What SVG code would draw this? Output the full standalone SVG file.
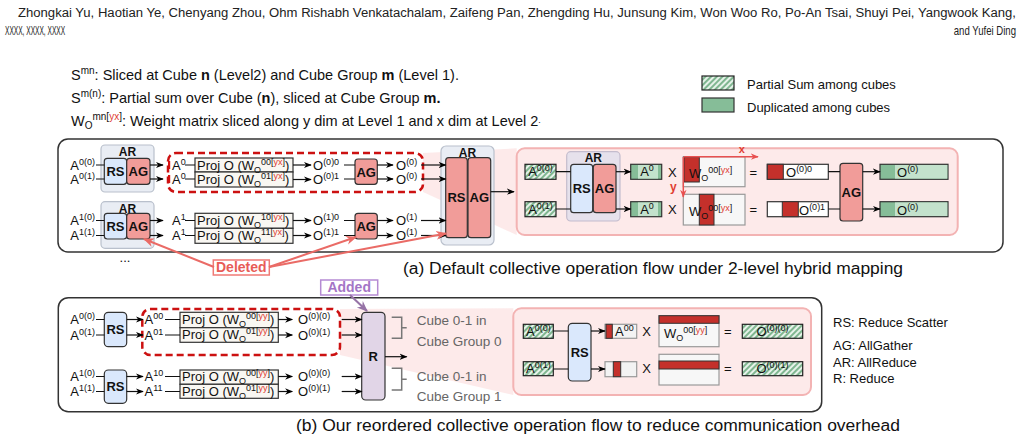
<svg xmlns="http://www.w3.org/2000/svg" width="1023" height="441" viewBox="0 0 1023 441">
<style>
text{font-family:"Liberation Sans",Arial,Helvetica,sans-serif;fill:#111}
.t{font-size:13px}
.lg{font-size:14.5px}
.s{font-size:9px}
.s2{font-size:10px}
.b{font-weight:bold}
.c{text-anchor:middle}
.e{text-anchor:end}
.hdr{font-family:"Liberation Sans Narrow","Liberation Sans",Arial,sans-serif;font-size:12px;fill:#222}
.gr{fill:#666}
.rs{fill:#dae8fc;stroke:#333;stroke-width:1.2}
.ag{fill:#f19c99;stroke:#333;stroke-width:1.2}
.ar{fill:#e9edf4;stroke:#b9c0cc;stroke-width:1.2}
.arp{fill:#e6e1ec;stroke:#c4bccd;stroke-width:1.2}
.rr{fill:#e1d5e7;stroke:#333;stroke-width:1.2}
.proj{fill:#f9f7f2;stroke:#333;stroke-width:1.2}
.ln{stroke:#111;stroke-width:1.2;fill:none}
.arw{stroke:#111;stroke-width:1.2;fill:none;marker-end:url(#ah)}
.rd{fill:#e03c31}
.dred{fill:#c4302b;stroke:#333;stroke-width:1}
.hatch{fill:url(#hatch);stroke:#222;stroke-width:1.2}
.dupd{fill:#86bd98;stroke:#333;stroke-width:1.2}
.dupl{fill:#c3e2cc}
.wbox{fill:#f7f7f7;stroke:#999;stroke-width:1.2}
.panel{fill:#fff;stroke:#333;stroke-width:1.5}
.pink{fill:#fdeaea;stroke:#f3b3b3;stroke-width:2}
.trap{fill:#fce3e3;opacity:0.75}
.dash{fill:none;stroke:#cc1111;stroke-width:2.5;stroke-dasharray:7,4}
.del{stroke:#ea6b66;stroke-width:2;fill:none;marker-end:url(#ahr)}
</style>
<defs>
<pattern id="hatch" width="4" height="4" patternUnits="userSpaceOnUse" patternTransform="rotate(45)">
<rect width="4" height="4" fill="#e6f2e9"/><rect width="2" height="4" fill="#7fb690"/>
</pattern>
<marker id="ah" viewBox="0 0 10 10" refX="9" refY="5" markerWidth="8" markerHeight="8" markerUnits="userSpaceOnUse" orient="auto"><path d="M0,1 L10,5 L0,9 L3,5 z" fill="#000"/></marker>
<marker id="ahr" viewBox="0 0 10 10" refX="9" refY="5" markerWidth="11" markerHeight="11" markerUnits="userSpaceOnUse" orient="auto"><path d="M0,1 L10,5 L0,9 L3,5 z" fill="#ea6b66"/></marker>
<marker id="ahx" viewBox="0 0 10 10" refX="9" refY="5" markerWidth="8" markerHeight="8" markerUnits="userSpaceOnUse" orient="auto"><path d="M0,1 L10,5 L0,9 L3,5 z" fill="#e85050"/></marker>
<marker id="ahp" viewBox="0 0 10 10" refX="9" refY="5" markerWidth="11" markerHeight="11" markerUnits="userSpaceOnUse" orient="auto"><path d="M0,1 L10,5 L0,9 L3,5 z" fill="#9673a6"/></marker>
</defs>

<!-- header -->
<g id="header">
<text x="18" y="17" class="hdr" textLength="998" lengthAdjust="spacingAndGlyphs">Zhongkai Yu, Haotian Ye, Chenyang Zhou, Ohm Rishabh Venkatachalam, Zaifeng Pan, Zhengding Hu, Junsung Kim, Won Woo Ro, Po-An Tsai, Shuyi Pei, Yangwook Kang,</text>
<text transform="translate(5,35) scale(0.55,1)" x="0" y="0" class="hdr">XXXX, XXXX, XXXX</text>
<text transform="translate(1016,35) scale(0.8,1)" x="0" y="0" class="hdr e">and Yufei Ding</text>
</g>

<!-- notation legend -->
<g id="notation">
<text x="71" y="80" class="lg">S<tspan class="s2" dy="-6">mn</tspan><tspan dy="6">: Sliced at Cube </tspan><tspan class="b">n</tspan> (Level2) and Cube Group <tspan class="b">m</tspan> (Level 1).</text>
<text x="71" y="103" class="lg">S<tspan class="s2" dy="-6">m(n)</tspan><tspan dy="6">: Partial sum over Cube (</tspan><tspan class="b">n</tspan>), sliced at Cube Group <tspan class="b">m.</tspan></text>
<text x="71" y="126" class="lg">W<tspan class="s2" dy="3">O</tspan><tspan class="s2" dy="-9">mn[<tspan class="rd">yx</tspan>]</tspan><tspan dy="6">: Weight matrix sliced along y dim at Level 1 and x dim at Level 2</tspan><tspan class="s" dy="-3">.</tspan></text>
</g>
<g id="legend-fill">
<rect x="702" y="76" width="32" height="14" class="hatch"/>
<text x="747" y="89" class="t">Partial Sum among cubes</text>
<rect x="702" y="98" width="32" height="14" fill="#86bd98" stroke="#333" stroke-width="1.2"/>
<text x="747" y="112" class="t">Duplicated among cubes</text>
</g>

<!-- top panel -->
<g id="panel-a">
<rect x="58" y="139" width="945" height="113" rx="10" class="panel"/>
<polygon points="423,153 516.7,148.3 516.7,235 423,192" class="trap"/>
</g>

<g id="ar-top0">
<rect x="101" y="145" width="53" height="47" rx="4" class="ar"/>
<text x="127.5" y="156" class="c b" font-size="12">AR</text>
<rect x="104.3" y="158.3" width="22.4" height="26" rx="3" class="rs"/>
<text x="115.5" y="176" class="c b t">RS</text>
<rect x="126.7" y="158.3" width="23.3" height="26" rx="3" class="ag"/>
<text x="138.3" y="176" class="c b t">AG</text>
</g>
<g id="ar-top1">
<rect x="101" y="201.7" width="53" height="46.6" rx="4" class="ar"/>
<text x="127.5" y="212.5" class="c b" font-size="12">AR</text>
<rect x="104.3" y="213.3" width="22.4" height="25.7" rx="3" class="rs"/>
<text x="115.5" y="230.7" class="c b t">RS</text>
<rect x="126.7" y="213.3" width="23.3" height="25.7" rx="3" class="ag"/>
<text x="138.3" y="230.7" class="c b t">AG</text>
</g>

<g id="inputs-a">
<text x="95" y="169.5" class="t e">A<tspan class="s" dy="-5">0(0)</tspan></text>
<text x="95" y="183.5" class="t e">A<tspan class="s" dy="-5">0(1)</tspan></text>
<text x="95" y="225" class="t e">A<tspan class="s" dy="-5">1(0)</tspan></text>
<text x="95" y="240" class="t e">A<tspan class="s" dy="-5">1(1)</tspan></text>
<text x="125" y="262" class="t c">...</text>
</g>

<g id="proj-a">
<rect x="168" y="161" width="2.2" height="8" fill="#dd1111"/>
<rect x="168" y="175" width="2.2" height="8" fill="#dd1111"/>
<text x="172" y="169.5" class="t">A<tspan class="s" dy="-5">0</tspan></text>
<text x="172" y="183.5" class="t">A<tspan class="s" dy="-5">0</tspan></text>
<text x="172" y="225" class="t">A<tspan class="s" dy="-5">1</tspan></text>
<text x="172" y="240" class="t">A<tspan class="s" dy="-5">1</tspan></text>
<rect x="195" y="158" width="98" height="14" class="proj"/>
<rect x="195" y="172" width="98" height="15" class="proj"/>
<rect x="195" y="213.3" width="98" height="15" class="proj"/>
<rect x="195" y="228.3" width="98" height="15" class="proj"/>
<text x="197" y="169.5" class="t">Proj O (W<tspan class="s" dy="3">O</tspan><tspan class="s" dy="-8">00[<tspan class="rd">yx</tspan>]</tspan><tspan dy="5">)</tspan></text>
<text x="197" y="184" class="t">Proj O (W<tspan class="s" dy="3">O</tspan><tspan class="s" dy="-8">01[<tspan class="rd">yx</tspan>]</tspan><tspan dy="5">)</tspan></text>
<text x="197" y="225.3" class="t">Proj O (W<tspan class="s" dy="3">O</tspan><tspan class="s" dy="-8">10[<tspan class="rd">yx</tspan>]</tspan><tspan dy="5">)</tspan></text>
<text x="197" y="240.3" class="t">Proj O (W<tspan class="s" dy="3">O</tspan><tspan class="s" dy="-8">11[<tspan class="rd">yx</tspan>]</tspan><tspan dy="5">)</tspan></text>
</g>

<g id="outs-a">
<text x="313" y="169.5" class="t">O<tspan class="s" dy="-5">(0)0</tspan></text>
<text x="313" y="183.5" class="t">O<tspan class="s" dy="-5">(0)1</tspan></text>
<text x="313" y="225" class="t">O<tspan class="s" dy="-5">(1)0</tspan></text>
<text x="313" y="240" class="t">O<tspan class="s" dy="-5">(1)1</tspan></text>
<text x="396" y="169.5" class="t">O<tspan class="s" dy="-5">(0)</tspan></text>
<text x="396" y="183.5" class="t">O<tspan class="s" dy="-5">(0)</tspan></text>
<text x="396" y="225" class="t">O<tspan class="s" dy="-5">(1)</tspan></text>
<text x="396" y="240" class="t">O<tspan class="s" dy="-5">(1)</tspan></text>
</g>
<g id="ag-a0">
<rect x="355" y="159" width="22.3" height="25.3" rx="3" class="ag"/>
<text x="366.2" y="176.5" class="c b t">AG</text>
</g>
<g id="ag-a1">
<rect x="355" y="213.3" width="22.3" height="25.7" rx="3" class="ag"/>
<text x="366.2" y="230.7" class="c b t">AG</text>
</g>
<rect id="dashed-a" x="168" y="153" width="255" height="39" rx="8" class="dash"/>

<g id="ar-big">
<rect x="441" y="146" width="53" height="99" rx="5" class="ar"/>
<text x="467.5" y="156.5" class="c b" font-size="12">AR</text>
<rect x="445.7" y="157.7" width="21.6" height="80" rx="3" class="ag"/>
<text x="456.5" y="202" class="c b t">RS</text>
<rect x="468" y="157.7" width="22.7" height="80" rx="3" class="ag"/>
<text x="479.3" y="202" class="c b t">AG</text>
</g>

<!-- zoomed pink panel (a) -->
<g id="zoom-a">
<rect x="516.7" y="148.3" width="441" height="86.7" rx="8" class="pink"/>
<rect x="525" y="164.3" width="31" height="15" class="hatch"/>
<text x="540.5" y="176.3" class="t c">A<tspan class="s" dy="-5">0(0)</tspan></text>
<rect x="525" y="201.7" width="31" height="15" class="hatch"/>
<text x="540.5" y="213.7" class="t c">A<tspan class="s" dy="-5">0(1)</tspan></text>
<rect x="566.7" y="151.7" width="53.3" height="69.3" rx="4" class="arp"/>
<text x="593.3" y="162" class="c b" font-size="12">AR</text>
<rect x="570.7" y="164.3" width="22" height="48.4" rx="3" class="rs"/>
<text x="581.7" y="193" class="c b t">RS</text>
<rect x="593.3" y="164.3" width="22.7" height="48.4" rx="3" class="ag"/>
<text x="604.6" y="193" class="c b t">AG</text>
<rect x="630.7" y="164.3" width="31" height="15" class="dupd"/>
<rect x="638" y="165" width="20" height="13.6" class="dupl"/>
<text x="647" y="176.3" class="t c">A<tspan class="s" dy="-5">0</tspan></text>
<rect x="630.7" y="201.7" width="31" height="15" class="dupd"/>
<rect x="638" y="202.4" width="20" height="13.6" class="dupl"/>
<text x="647" y="213.7" class="t c">A<tspan class="s" dy="-5">0</tspan></text>
<text x="672.3" y="176.5" class="t c">X</text>
<text x="672.3" y="213.5" class="t c">X</text>
<rect x="683.3" y="156.7" width="61.7" height="30" class="wbox"/>
<rect x="684" y="157" width="15.3" height="25" class="dred"/>
<text x="689" y="178" class="t">W<tspan class="s" dy="3">O</tspan><tspan class="s" dy="-8">00[<tspan class="rd">yx</tspan>]</tspan></text>
<rect x="683.3" y="194.3" width="61.7" height="30.7" class="wbox"/>
<rect x="699.3" y="194.3" width="14.7" height="30.7" class="dred"/>
<text x="689" y="215.5" class="t">W<tspan class="s" dy="3">O</tspan><tspan class="s" dy="-8">00[<tspan class="rd">yx</tspan>]</tspan></text>
<text x="741.7" y="153" class="c b rd" font-size="11">x</text>
<text x="673.3" y="191" class="c b rd" font-size="12">y</text>
<text x="753.3" y="176.5" class="t c">=</text>
<text x="753.3" y="213.5" class="t c">=</text>
<rect x="767.3" y="164.3" width="61" height="15" fill="#fff" stroke="#333" stroke-width="1.2"/>
<rect x="767.3" y="164.3" width="16" height="15" class="dred"/>
<text x="786" y="177" class="t">O<tspan class="s" dy="-5">(0)0</tspan></text>
<rect x="767.3" y="201.7" width="61" height="15" fill="#fff" stroke="#333" stroke-width="1.2"/>
<rect x="782.3" y="201.7" width="16" height="15" class="dred"/>
<text x="799" y="214.5" class="t">O<tspan class="s" dy="-5">(0)1</tspan></text>
<rect x="840" y="163.3" width="22.7" height="57.7" rx="3" class="ag"/>
<text x="851.3" y="196.5" class="c b t">AG</text>
<rect x="880" y="164.3" width="68" height="15" class="dupd"/>
<rect x="895" y="165" width="52.3" height="13.6" class="dupl"/>
<text x="897" y="177" class="t">O<tspan class="s" dy="-5">(0)</tspan></text>
<rect x="880" y="201.7" width="68" height="15" class="dupd"/>
<rect x="895" y="202.4" width="52.3" height="13.6" class="dupl"/>
<text x="897" y="214.5" class="t">O<tspan class="s" dy="-5">(0)</tspan></text>
</g>

<g id="deleted">
<rect x="213.3" y="260" width="56" height="15" fill="#fff" stroke="#f07a75" stroke-width="1.5"/>
<text x="241.3" y="272.3" class="c b" font-size="14" style="fill:#e85c57">Deleted</text>
</g>

<text id="caption-a" x="403" y="273.5" font-size="16" textLength="500" lengthAdjust="spacingAndGlyphs">(a) Default collective operation flow under 2-level hybrid mapping</text>

<g id="added">
<rect x="320.7" y="280" width="57" height="15" fill="#fff" stroke="#b58bd3" stroke-width="1.5"/>
<text x="349.2" y="292.3" class="c b" font-size="14" style="fill:#a474c6">Added</text>
</g>

<!-- bottom panel -->
<g id="panel-b">
<rect x="58.3" y="297.7" width="763.4" height="114" rx="10" class="panel"/>
<polygon points="340,309 513.3,308.3 513.3,395 340,355" class="trap"/>
</g>
<g id="inputs-b">
<text x="95" y="324" class="t e">A<tspan class="s" dy="-5">0(0)</tspan></text>
<text x="95" y="339.5" class="t e">A<tspan class="s" dy="-5">0(1)</tspan></text>
<text x="95" y="381" class="t e">A<tspan class="s" dy="-5">1(0)</tspan></text>
<text x="95" y="396" class="t e">A<tspan class="s" dy="-5">1(1)</tspan></text>
</g>
<g id="rs-b0">
<rect x="104.3" y="312.3" width="22.4" height="34.4" rx="4" class="rs"/>
<text x="115.5" y="334" class="c b t">RS</text>
</g>
<g id="rs-b1">
<rect x="104.3" y="370" width="22.4" height="33.3" rx="4" class="rs"/>
<text x="115.5" y="391" class="c b t">RS</text>
</g>
<g id="proj-b">
<text x="144.5" y="324" class="t">A<tspan class="s" dy="-5">00</tspan></text>
<text x="144.5" y="339.5" class="t">A<tspan class="s" dy="-5">01</tspan></text>
<text x="144.5" y="381" class="t">A<tspan class="s" dy="-5">10</tspan></text>
<text x="144.5" y="396" class="t">A<tspan class="s" dy="-5">11</tspan></text>
<rect x="180" y="312.3" width="98.3" height="15.4" class="proj"/>
<rect x="180" y="327.7" width="98.3" height="14.6" class="proj"/>
<rect x="180" y="370" width="98.3" height="14.3" class="proj"/>
<rect x="180" y="384.3" width="98.3" height="14" class="proj"/>
<text x="182" y="324" class="t">Proj O (W<tspan class="s" dy="3">O</tspan><tspan class="s" dy="-8">00[<tspan class="rd">yy</tspan>]</tspan><tspan dy="5">)</tspan></text>
<text x="182" y="339" class="t">Proj O (W<tspan class="s" dy="3">O</tspan><tspan class="s" dy="-8">01[<tspan class="rd">yy</tspan>]</tspan><tspan dy="5">)</tspan></text>
<text x="182" y="381" class="t">Proj O (W<tspan class="s" dy="3">O</tspan><tspan class="s" dy="-8">00[<tspan class="rd">yy</tspan>]</tspan><tspan dy="5">)</tspan></text>
<text x="182" y="395.5" class="t">Proj O (W<tspan class="s" dy="3">O</tspan><tspan class="s" dy="-8">01[<tspan class="rd">yy</tspan>]</tspan><tspan dy="5">)</tspan></text>
<text x="298" y="324" class="t">O<tspan class="s" dy="-5">(0)(0)</tspan></text>
<text x="298" y="339.5" class="t">O<tspan class="s" dy="-5">(0)(1)</tspan></text>
<text x="298" y="381" class="t">O<tspan class="s" dy="-5">(0)(0)</tspan></text>
<text x="298" y="396" class="t">O<tspan class="s" dy="-5">(0)(1)</tspan></text>
</g>
<rect id="dashed-b" x="142.3" y="309" width="197.7" height="46" rx="8" class="dash"/>
<g id="reduce">
<rect x="361.7" y="312.3" width="23.3" height="87.7" rx="4" class="rr"/>
<text x="373.3" y="360.5" class="c b t">R</text>
</g>
<g id="groups">
<path d="M391.7,317.3 H401.7 V338.3 H391.7 M401.7,327.8 H406.7 M391.7,368.3 H401.7 V390 H391.7 M401.7,379.2 H406.7" fill="none" stroke="#777" stroke-width="1.5"/>
<text x="416.7" y="325" font-size="13.5" style="fill:#666">Cube 0-1 in</text>
<text x="416.7" y="346" font-size="13.5" style="fill:#666">Cube Group 0</text>
<text x="416.7" y="380.5" font-size="13.5" style="fill:#666">Cube 0-1 in</text>
<text x="416.7" y="400.5" font-size="13.5" style="fill:#666">Cube Group 1</text>
</g>

<!-- zoomed pink panel (b) -->
<g id="zoom-b">
<rect x="513.3" y="308.3" width="297.7" height="86.7" rx="8" class="pink"/>
<rect x="523.3" y="324.3" width="30" height="14" class="hatch"/>
<text x="538.3" y="335.8" class="t c">A<tspan class="s" dy="-5">0(0)</tspan></text>
<rect x="523.3" y="361.7" width="30" height="14" class="hatch"/>
<text x="538.3" y="373.2" class="t c">A<tspan class="s" dy="-5">0(1)</tspan></text>
<rect x="568.3" y="323.3" width="22.7" height="57.7" rx="4" class="rs"/>
<text x="579.7" y="356.5" class="c b t">RS</text>
<rect x="605" y="324.3" width="31.7" height="14" fill="#f3f3f3" stroke="#999" stroke-width="1.2"/>
<rect x="606" y="324.3" width="6.3" height="14" class="dred"/>
<text x="615" y="335.8" class="t">A<tspan class="s" dy="-5">00</tspan></text>
<rect x="605" y="361.7" width="31.7" height="15" fill="#f3f3f3" stroke="#999" stroke-width="1.2"/>
<rect x="613.3" y="361.7" width="7.4" height="15" class="dred"/>
<text x="646.7" y="335.5" class="t c">X</text>
<text x="646.7" y="372.5" class="t c">X</text>
<rect x="659" y="315.7" width="60" height="31" class="wbox"/>
<rect x="659" y="315.7" width="60" height="7.6" class="dred"/>
<text x="664" y="338" class="t">W<tspan class="s" dy="3">O</tspan><tspan class="s" dy="-8">00[<tspan class="rd">yy</tspan>]</tspan></text>
<rect x="659" y="354.3" width="60" height="30.7" class="wbox"/>
<rect x="659" y="361" width="60" height="8" class="dred"/>
<text x="727.7" y="335.5" class="t c">=</text>
<text x="727.7" y="372.5" class="t c">=</text>
<rect x="742.3" y="324.3" width="60.4" height="14" class="hatch"/>
<text x="772.5" y="336" class="t c">O<tspan class="s" dy="-5">(0)(0)</tspan></text>
<rect x="742.3" y="361.7" width="60.4" height="14" class="hatch"/>
<text x="772.5" y="373.4" class="t c">O<tspan class="s" dy="-5">(0)(1)</tspan></text>
</g>

<g id="abbrev">
<text x="833" y="327" class="t">RS: Reduce Scatter</text>
<text x="833" y="350" class="t">AG: AllGather</text>
<text x="833" y="366.5" class="t">AR: AllReduce</text>
<text x="833" y="383" class="t">R: Reduce</text>
</g>

<text id="caption-b" x="296" y="431" font-size="16" textLength="604" lengthAdjust="spacingAndGlyphs">(b) Our reordered collective operation flow to reduce communication overhead</text>

<!-- connectors -->
<g id="connectors">
<path class="ln" d="M96,165 H104.3 M96,179 H104.3 M96,220.5 H104.3 M96,235.5 H104.3"/>
<path class="arw" d="M150,165 H163"/>
<path class="arw" d="M150,179 H163"/>
<path class="arw" d="M150,220.5 H163"/>
<path class="arw" d="M150,235.5 H163"/>
<path class="ln" d="M185,165 H195 M185,179 H195 M185,220.5 H195 M185,235.5 H195"/>
<path class="arw" d="M293,165 H311"/>
<path class="arw" d="M293,179.5 H311"/>
<path class="arw" d="M293,220.5 H311"/>
<path class="arw" d="M293,235.5 H311"/>
<path class="ln" d="M344,165 H355 M344,179 H355 M344,220.5 H355 M344,235.5 H355"/>
<path class="arw" d="M377.3,165 H393"/>
<path class="arw" d="M377.3,179 H393"/>
<path class="arw" d="M377.3,220.5 H393"/>
<path class="arw" d="M377.3,235.5 H393"/>
<path class="arw" d="M421,165 H445.7"/>
<path class="arw" d="M421,179 H445.7"/>
<path class="arw" d="M421,220.5 H445.7"/>
<path class="arw" d="M421,235.5 H445.7"/>
<path class="arw" d="M490.7,191.7 H514"/>
<path class="ln" d="M556,171.7 H570.7 M556,209 H570.7"/>
<path class="arw" d="M616,171.7 H630.7"/>
<path class="arw" d="M616,209 H630.7"/>
<path class="ln" d="M828.3,171.7 H840 M828.3,209 H840"/>
<path class="arw" d="M862.7,171.7 H880"/>
<path class="arw" d="M862.7,209 H880"/>
<path d="M684,156.7 H758" stroke="#e85050" stroke-width="1.5" fill="none" marker-end="url(#ahx)"/>
<path d="M683.3,157 V197" stroke="#e85050" stroke-width="1.5" fill="none" marker-end="url(#ahx)"/>
<path class="del" d="M214,267 L144,239"/>
<path class="del" d="M269,267 L356,237"/>
<path class="del" d="M269,267 L446,233.5"/>
<path d="M350,295 L367,311" stroke="#9673a6" stroke-width="2" fill="none" marker-end="url(#ahp)"/>
<path class="ln" d="M96,319.5 H104.3 M96,335 H104.3 M96,376.5 H104.3 M96,391.5 H104.3"/>
<path class="arw" d="M126.7,319.5 H143"/>
<path class="arw" d="M126.7,335 H143"/>
<path class="arw" d="M126.7,376.5 H143"/>
<path class="arw" d="M126.7,391.5 H143"/>
<path class="ln" d="M165,319.5 H180 M165,335 H180 M165,376.5 H180 M165,391.5 H180"/>
<path class="arw" d="M278.3,319.5 H292.3"/>
<path class="arw" d="M278.3,335 H292.3"/>
<path class="arw" d="M278.3,376.5 H292.3"/>
<path class="arw" d="M278.3,391.5 H292.3"/>
<path class="arw" d="M341.7,319.5 H361.7"/>
<path class="arw" d="M341.7,335 H361.7"/>
<path class="arw" d="M341.7,376.5 H361.7"/>
<path class="arw" d="M341.7,391.5 H361.7"/>
<path class="arw" d="M385,356.7 H406.7"/>
<path class="ln" d="M553.3,331 H568.3 M553.3,369 H568.3"/>
<path class="arw" d="M591,331 H605"/>
<path class="arw" d="M591,369 H605"/>
</g>
</svg>
